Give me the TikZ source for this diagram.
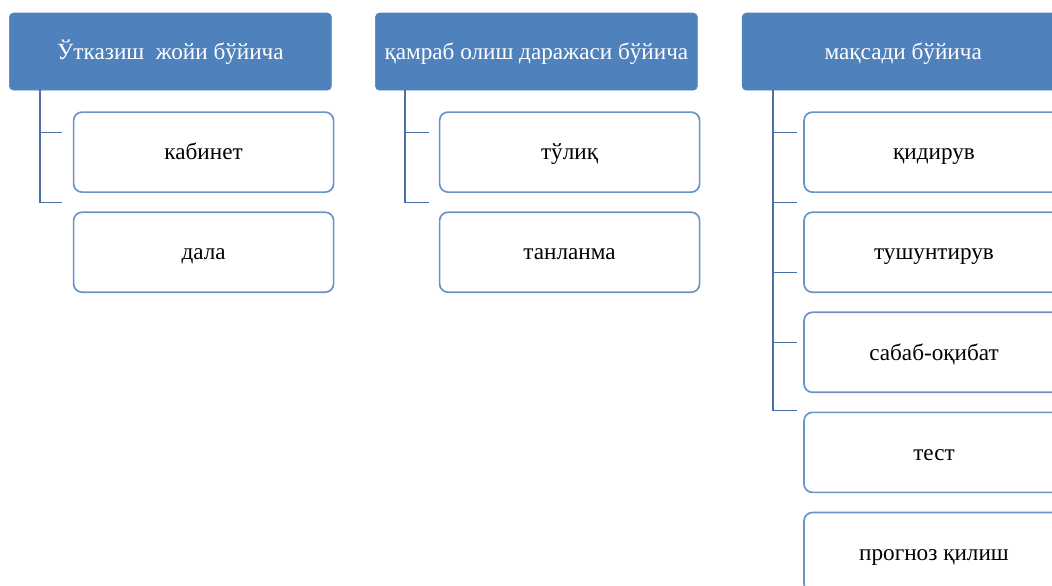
\documentclass[tikz,border=0pt]{standalone}
\usepackage{fontspec}
\setmainfont{Liberation Serif}
\usetikzlibrary{positioning,calc}

\definecolor{headblue}{HTML}{4F81BD}
\definecolor{itemblue}{HTML}{6A93C8}
\definecolor{linkblue}{HTML}{4A6FA5}

\begin{document}
\begin{tikzpicture}[
  node distance=0.46cm,
  head/.style={fill=headblue, draw=headblue, rounded corners=3pt, text=white, align=center,
    minimum width=8.05cm, minimum height=1.93cm, inner sep=2pt, text height=11pt, text depth=0pt,
    font=\fontsize{16.5}{19}\selectfont},
  item/.style={draw=itemblue, line width=1.2pt, fill=white, rounded corners=6pt, align=center,
    minimum width=6.5cm, minimum height=2.0cm, text height=11pt, text depth=0pt,
    font=\fontsize{16.5}{19}\selectfont},
  link/.style={draw=linkblue, line width=1.4pt}
]
\useasboundingbox (0,0) rectangle (26.3,-14.625);
\clip (0,0) rectangle (26.3,-14.625);

% headers
\node[head] (h1) at (4.26,-1.29) {Ўтказиш\ \ жойи бўйича};
\node[head] (h2) at (13.41,-1.29) {қамраб олиш даражаси бўйича};
\node[head] (h3) at (22.58,-1.29) {мақсади бўйича};

% first column
\node[item, below=0.52cm of h1, xshift=0.83cm] (k1) {кабинет};
\node[item, below=of k1] (k2) {дала};

% second column
\node[item, below=0.52cm of h2, xshift=0.83cm] (t1) {тўлиқ};
\node[item, below=of t1] (t2) {танланма};

% third column
\node[item, below=0.52cm of h3, xshift=0.77cm] (m1) {қидирув};
\node[item, below=of m1] (m2) {тушунтирув};
\node[item, below=of m2] (m3) {сабаб-оқибат};
\node[item, below=of m3] (m4) {тест};
\node[item, below=of m4] (m5) {прогноз қилиш};

% connectors
\coordinate (r1) at ($(h1.south west)+(0.775,0)$);
\coordinate (r2) at ($(h2.south west)+(0.75,0)$);
\coordinate (r3) at ($(h3.south west)+(0.775,0)$);

\draw[link] (r1) -- ++(0,-2.8) -- ++(0.55,0);
\draw[link] ($(r1)+(0,-1.05)$) -- ++(0.55,0);

\draw[link] (r2) -- ++(0,-2.8) -- ++(0.6,0);
\draw[link] ($(r2)+(0,-1.05)$) -- ++(0.6,0);

\draw[link] (r3) -- ++(0,-8.0) -- ++(0.6,0);
\draw[link] ($(r3)+(0,-1.05)$) -- ++(0.6,0);
\draw[link] ($(r3)+(0,-2.8)$) -- ++(0.6,0);
\draw[link] ($(r3)+(0,-4.55)$) -- ++(0.6,0);
\draw[link] ($(r3)+(0,-6.3)$) -- ++(0.6,0);
\end{tikzpicture}
\end{document}
